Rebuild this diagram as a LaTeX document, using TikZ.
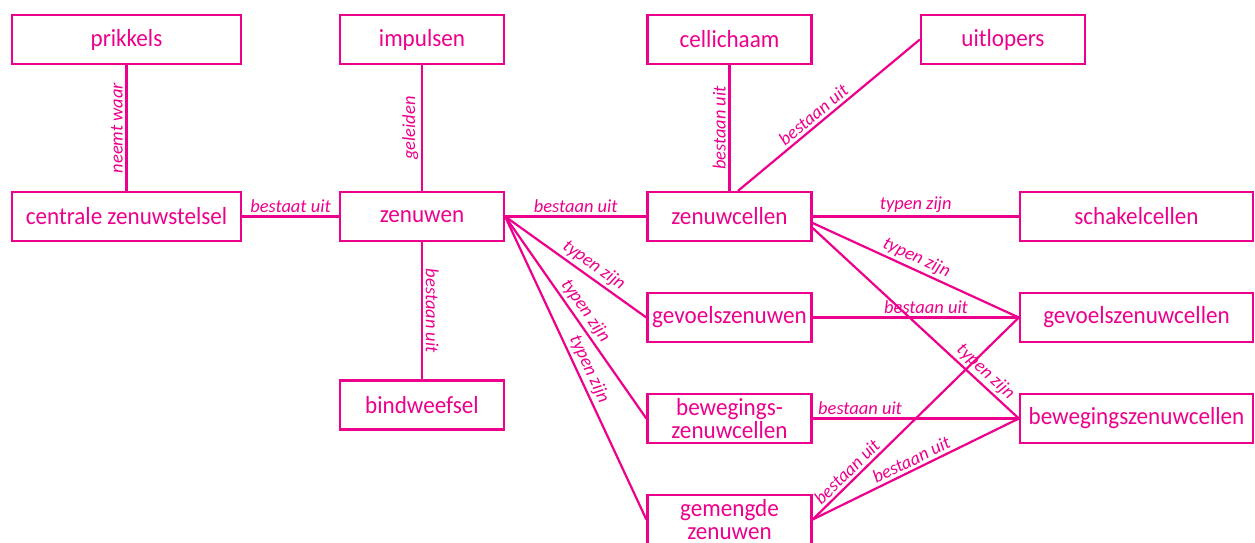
\documentclass[tikz,border=0pt]{standalone}
\usepackage{fontspec}
\setmainfont{Carlito}
\newfontfamily\vakfont{Carlito}[FakeStretch=0.94]
\usepackage{tikz}

\definecolor{roze}{HTML}{EC008C}

\tikzset{
  vak/.style={draw=roze, line width=1.3pt, text=roze, inner sep=0pt,
    minimum height=0.98cm, align=center,
    font=\vakfont\fontsize{14}{13}\selectfont},
  smal/.style={vak, minimum width=3.28cm},
  breed/.style={vak, minimum width=4.58cm},
  breder/.style={vak, minimum width=4.66cm},
  lbl/.style={text=roze, inner sep=1.5pt, font=\itshape\fontsize{10.5}{11}\selectfont},
  lijn/.style={roze, line width=1.25pt}
}

\begin{document}
\begin{tikzpicture}
    \useasboundingbox (0,0) rectangle (25.1,-10.84);

    %% bovenste rij
    \node[breed] (prik) at (2.53,-0.79) {prikkels};
    \node[smal] (imp) at (8.44,-0.79) {impulsen};
    \node[smal] (cel) at (14.59,-0.79) {cellichaam};
    \node[smal] (uit) at (20.06,-0.79) {uitlopers};

    %% middelste rij
    \node[breed] (czs) at (2.53,-4.33) {centrale zenuwstelsel};
    \node[smal] (zen) at (8.44,-4.33) {zenuwen};
    \node[smal] (zc) at (14.59,-4.33) {zenuwcellen};
    \node[breder] (schak) at (22.73,-4.33) {schakelcellen};

    %% typen zenuwen en zenuwcellen
    \node[smal] (bind) at (8.44,-8.10) {bindweefsel};
    \node[smal] (gz) at (14.59,-6.35) {gevoelszenuwen};
    \node[smal] (bz) at (14.59,-8.37) {bewegings-\\zenuwcellen};
    \node[smal] (gem) at (14.59,-10.39) {gemengde\\zenuwen};
    \node[breder] (gzc) at (22.73,-6.35) {gevoelszenuwcellen};
    \node[breder] (bzc) at (22.73,-8.37) {bewegingszenuwcellen};

    %% verbindingen links
    \draw[lijn] (prik) -- node[lbl, rotate=90, above] {neemt waar} (czs);
    \draw[lijn] (imp) -- node[lbl, rotate=90, above] {geleiden} (zen);
    \draw[lijn] (czs) -- node[lbl, above] {bestaat uit} (zen);
    \draw[lijn] (zen) -- node[lbl, rotate=-90, above] {bestaan uit} (bind);

    %% vanuit zenuwen
    \draw[lijn] (zen) -- node[lbl, above] {bestaan uit} (zc);
    \draw[lijn] (zen.east) -- node[lbl, sloped, above, pos=0.58] {typen zijn} (gz.west);
    \draw[lijn] (zen.east) -- node[lbl, sloped, above, pos=0.5] {typen zijn} (bz.west);
    \draw[lijn] (zen.east) -- node[lbl, sloped, above, pos=0.52] {typen zijn} (gem.west);

    %% vanuit zenuwcellen
    \draw[lijn] (cel) -- node[lbl, rotate=90, above] {bestaan uit} (zc);
    \draw[lijn] ([xshift=0.17cm]zc.north) -- node[lbl, sloped, above, pos=0.45] {bestaan uit} (uit.west);
    \draw[lijn] (zc) -- node[lbl, above] {typen zijn} (schak);
    \draw[lijn] ([yshift=-0.13cm]zc.east) -- node[lbl, sloped, above, pos=0.48] {typen zijn} (gzc.west);
    \draw[lijn] ([yshift=-0.23cm]zc.east) -- node[lbl, sloped, above, pos=0.8] {typen zijn} (bzc.west);

    %% naar de zenuwcellen
    \draw[lijn] (gz) -- node[lbl, above, pos=0.55] {bestaan uit} (gzc);
    \draw[lijn] (bz) -- node[lbl, above, pos=0.23] {bestaan uit} (bzc);
    \draw[lijn] (gem.east) -- node[lbl, sloped, above, pos=0.2] {bestaan uit} (gzc.west);
    \draw[lijn] (gem.east) -- node[lbl, sloped, above, pos=0.5] {bestaan uit} (bzc.west);
  \end{tikzpicture}
\end{document}
